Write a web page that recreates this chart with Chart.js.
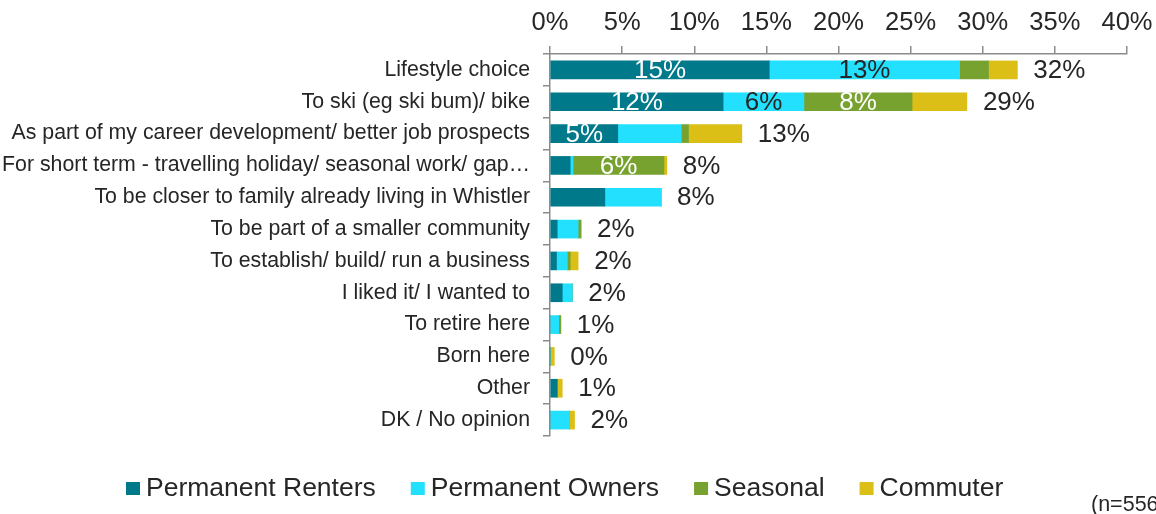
<!DOCTYPE html>
<html>
<head>
<meta charset="utf-8">
<title>Reasons for living in Whistler</title>
<script src="https://cdn.jsdelivr.net/npm/chart.js@4.4.0/dist/chart.umd.min.js"></script>
<style>
  html, body { margin: 0; padding: 0; background: #ffffff; overflow: hidden; }
  #wrap { position: relative; width: 1156px; height: 514px; }
  #chart { display: block; }
</style>
</head>
<body>
<div id="wrap"><canvas id="chart"></canvas></div>
<script>
// Reasons for moving to / living in Whistler, by resident segment (% of respondents)
const categories = [
  'Lifestyle choice',
  'To ski (eg ski bum)/ bike',
  'As part of my career development/ better job prospects',
  'For short term - travelling holiday/ seasonal work/ gap\u2026',
  'To be closer to family already living in Whistler',
  'To be part of a smaller community',
  'To establish/ build/ run a business',
  'I liked it/ I wanted to',
  'To retire here',
  'Born here',
  'Other',
  'DK / No opinion'
];

const seriesNames = ['Permanent Renters', 'Permanent Owners', 'Seasonal', 'Commuter'];

const permanentRenters = [15.2, 12.0, 4.7, 1.4, 3.8, 0.5, 0.45, 0.85, 0, 0, 0.5, 0];
const permanentOwners  = [13.2, 5.6, 4.4, 0.2, 3.9, 1.45, 0.75, 0.7, 0.6, 0, 0, 1.35];
const seasonal         = [2.0, 7.5, 0.5, 6.3, 0, 0.2, 0.2, 0, 0.15, 0, 0, 0];
const commuter         = [2.0, 3.8, 3.7, 0.2, 0, 0, 0.55, 0, 0, 0.3, 0.35, 0.35];

const axisMin = 0;
const axisMax = 40;
const axisStep = 5;

const sampleNote = '(n=556)';

const seriesColors = ['#00798a', '#22e0fe', '#78a230', '#dbbf17'];
const segmentInk   = ['#ffffff', '#262626', '#ffffff', '#262626'];
const textColor = '#262626';
const axisColor = '#8c8c8c';
const fontFamily = '"Liberation Sans", Arial, Helvetica, sans-serif';

const seriesValues = [permanentRenters, permanentOwners, seasonal, commuter];
const totals = categories.map((_, j) => seriesValues.reduce((s, arr) => s + arr[j], 0));

const pct = v => Math.round(v) + '%';

// Percentages written inside the wider segments and a total at the end of each bar
const barLabels = {
  id: 'barLabels',
  afterDatasetsDraw(chart) {
    const ctx = chart.ctx;
    const xs = chart.scales.x;
    ctx.save();
    ctx.font = '26px ' + fontFamily;
    ctx.textBaseline = 'middle';
    ctx.textAlign = 'center';
    chart.data.datasets.forEach((ds, i) => {
      const meta = chart.getDatasetMeta(i);
      meta.data.forEach((bar, j) => {
        const v = ds.data[j];
        if (Math.round(v) < 5) return;
        ctx.fillStyle = segmentInk[i];
        ctx.fillText(pct(v), (bar.x + bar.base) / 2, bar.y + 1);
      });
    });
    ctx.textAlign = 'left';
    ctx.fillStyle = textColor;
    const first = chart.getDatasetMeta(0);
    totals.forEach((t, j) => {
      const y = first.data[j].y;
      ctx.fillText(pct(t), xs.getPixelForValue(t) + 16, y + 1);
    });
    ctx.restore();
  }
};

// Legend row along the bottom and the sample size note
const bottomLegend = {
  id: 'bottomLegend',
  afterDraw(chart) {
    const ctx = chart.ctx;
    ctx.save();
    ctx.font = '26.5px ' + fontFamily;
    ctx.textBaseline = 'alphabetic';
    ctx.textAlign = 'left';
    const box = 14, boxH = 13, gap = 6, itemGap = 35;
    let x = 126;
    const baseline = 496;
    seriesNames.forEach((name, i) => {
      ctx.fillStyle = seriesColors[i];
      ctx.fillRect(x, 482, box, boxH);
      ctx.fillStyle = textColor;
      ctx.fillText(name, x + box + gap, baseline);
      x += box + gap + ctx.measureText(name).width + itemGap;
    });
    ctx.font = '21.5px ' + fontFamily;
    ctx.fillText(sampleNote, 1091, 510.5);
    ctx.restore();
  }
};

new Chart(document.getElementById('chart'), {
  type: 'bar',
  data: {
    labels: categories,
    datasets: seriesNames.map((name, i) => ({
      label: name,
      data: seriesValues[i],
      backgroundColor: seriesColors[i],
      borderWidth: 0,
      barThickness: 18
    }))
  },
  options: {
    indexAxis: 'y',
    responsive: true,
    maintainAspectRatio: false,
    animation: false,
    layout: { padding: { top: 0, right: 29, bottom: 78, left: 0 } },
    plugins: {
      legend: { display: false },
      tooltip: { enabled: false }
    },
    scales: {
      x: {
        position: 'top',
        stacked: true,
        min: axisMin,
        max: axisMax,
        afterFit(scale) {
          scale.height = 54;
          scale.paddingLeft = 0;
          scale.paddingRight = 0;
        },
        afterBuildTicks(scale) {
          const t = [];
          for (let v = axisMin; v <= axisMax; v += axisStep) t.push({ value: v });
          scale.ticks = t;
        },
        ticks: {
          callback: v => v + '%',
          color: textColor,
          padding: 8,
          maxRotation: 0,
          font: { family: fontFamily, size: 25.5 }
        },
        grid: {
          drawOnChartArea: false,
          drawTicks: true,
          tickLength: 8,
          color: axisColor,
          lineWidth: 1.5
        },
        border: { display: true, color: axisColor, width: 1.5 }
      },
      y: {
        stacked: true,
        afterFit(scale) { scale.width = 550; },
        ticks: {
          color: textColor,
          padding: 13,
          autoSkip: false,
          font: { family: fontFamily, size: 21.3 }
        },
        grid: {
          drawOnChartArea: false,
          drawTicks: true,
          tickLength: 7,
          color: axisColor,
          lineWidth: 1.5
        },
        border: { display: true, color: axisColor, width: 1.5 }
      }
    }
  },
  plugins: [barLabels, bottomLegend]
});
</script>
</body>
</html>
